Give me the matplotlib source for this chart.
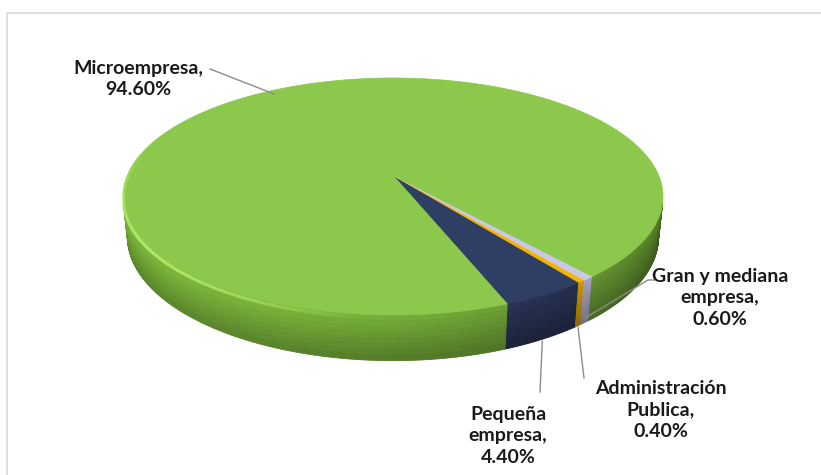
import numpy as np
import matplotlib.pyplot as plt
from matplotlib.patches import Polygon, Rectangle
from matplotlib.collections import PolyCollection, LineCollection

# data
names = ["Microempresa", "Pequeña\nempresa", "Administración\nPublica", "Gran y mediana\nempresa"]
values = [94.60, 4.40, 0.40, 0.60]
top_colors = ["#8cc84b", "#2f3f63", "#f5b400", "#c9c8e6"]
side_colors = [(0.42, 0.62, 0.20), (0.15, 0.19, 0.32), (0.85, 0.62, 0.0), (0.68, 0.67, 0.80)]

# drawing order counter-clockwise (seen from above), starting with Pequeña
order = [1, 2, 3, 0]
start_deg = -69.0

# label layout (pixel positions)
label_xy = {0: (138, 79), 1: (508, 436), 2: (661, 410), 3: (720, 298)}

# simple perspective camera
elev = np.radians(27)
dist = 5.0
thick = 0.18
c, s = np.cos(elev), np.sin(elev)


def proj(theta, z):
    x = np.cos(theta)
    y = np.sin(theta)
    depth = y * c - z * s + dist
    return x / depth, (y * s + z * c) / depth


# fit the top face into the pixel box of the reference
tt = np.linspace(0, 2 * np.pi, 721)
sx, sy = proj(tt, 0.0)
box = (123, 663, 78, 315)
kx = (box[1] - box[0]) / (sx.max() - sx.min())
ky = (box[3] - box[2]) / (sy.max() - sy.min())


def to_px(theta, z):
    a, b = proj(theta, z)
    return box[0] + (a - sx.min()) * kx, box[2] + (sy.max() - b) * ky


fig = plt.figure(figsize=(8.21, 4.75), dpi=100)
ax = fig.add_axes([0, 0, 1, 1])
ax.set_xlim(0, 821)
ax.set_ylim(475, 0)
ax.axis("off")

ax.add_patch(Rectangle((7, 13), 830, 480, fill=False, ec="#d9d9d9", lw=1.2))

# slice angles
bounds = {}
a0 = np.radians(start_deg)
for i in order:
    a1 = a0 + np.radians(values[i] / sum(values) * 360)
    bounds[i] = (a0, a1)
    a0 = a1

# side wall (only faces turned to the camera), shaded top to bottom
nb = 8
zs = np.linspace(0.0, -thick, nb + 1)
quads, cols = [], []
for i in order:
    a, b = bounds[i]
    n = max(2, int((b - a) / np.radians(0.5)))
    th = np.linspace(a, b, n + 1)
    for t0, t1 in zip(th[:-1], th[1:]):
        tm = 0.5 * (t0 + t1)
        if np.sin(tm) > -1.0 / (dist * c):
            continue
        shade = 0.86 + 0.22 * np.cos(tm - np.radians(215))
        for j in range(nb):
            k = 1.1 - 0.3 * j / (nb - 1)
            p = [to_px(t0, zs[j]), to_px(t1, zs[j]), to_px(t1, zs[j + 1]), to_px(t0, zs[j + 1])]
            quads.append(p)
            cols.append(tuple(min(1, v * shade * k) for v in side_colors[i]))
ax.add_collection(PolyCollection(quads, facecolors=cols, edgecolors=cols, lw=0.6))

# top face
cx, cy = to_px(0.0, 0.0)
cx, cy = box[0] - sx.min() * kx, box[2] + sy.max() * ky
for i in order:
    a, b = bounds[i]
    th = np.linspace(a, b, max(3, int((b - a) / np.radians(0.5))))
    xs, ys = to_px(th, 0.0)
    pts = [(cx, cy)] + list(zip(xs, ys))
    ax.add_patch(Polygon(pts, closed=True, fc=top_colors[i], ec=top_colors[i], lw=0.5))

# rim highlight on the left
th = np.linspace(np.radians(165), np.radians(265), 80)
hx, hy = to_px(th, -0.01)
segs = [[(hx[j], hy[j]), (hx[j + 1], hy[j + 1])] for j in range(len(th) - 1)]
alphas = np.sin(np.linspace(0, np.pi, len(segs))) * 0.8
ax.add_collection(LineCollection(segs, colors=[(0.75, 0.95, 0.45, al) for al in alphas], lw=2.2))

# labels and leader lines
font = dict(family=["Lato", "DejaVu Sans"], fontsize=14, fontweight="bold",
            color="#1a1a1a", ha="center", va="center", linespacing=1.35)
for i in range(len(values)):
    x, y = label_xy[i]
    ax.text(x, y, f"{names[i]},\n{values[i]:.2f}%", **font)

lc = "#8c8c8c"
mx, my = to_px(np.radians(121), -0.005)
ax.plot([210, mx], [69, my + 3], color=lc, lw=1)
for i, start in ((1, (540, 392)), (2, (584, 378))):
    a, b = bounds[i]
    ex, ey = to_px(0.5 * (a + b), -thick)
    ax.plot([start[0], ex], [start[1], ey + 2], color=lc, lw=1)
a, b = bounds[3]
ex, ey = to_px(0.5 * (a + b), -thick * 0.9)
ax.plot([655, 648, ex], [280, 280, ey], color=lc, lw=1)

fig.savefig("out.png", dpi=100, facecolor="white")
